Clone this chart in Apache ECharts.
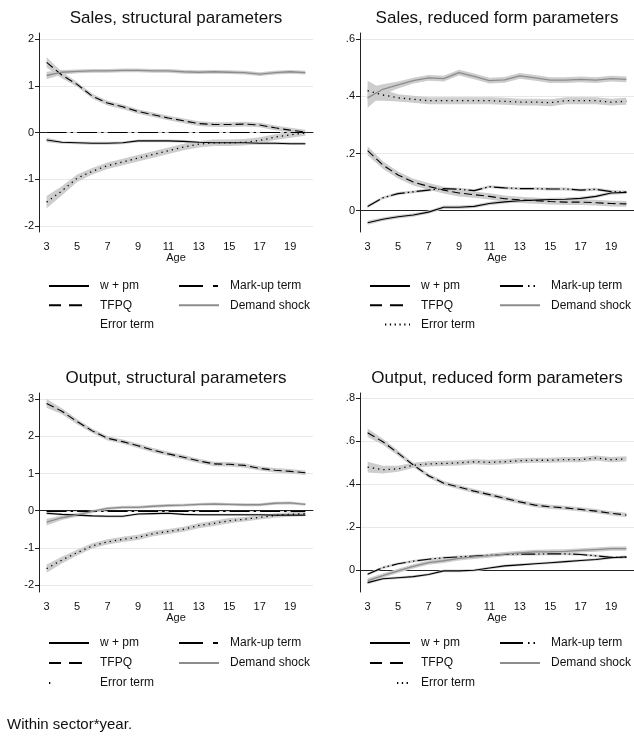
<!DOCTYPE html>
<html>
<head>
<meta charset="utf-8">
<script src="https://cdn.jsdelivr.net/npm/echarts@6/dist/echarts.min.js"></script>
<style>
  html, body { margin: 0; padding: 0; background: #fff; }
  #chart { width: 634px; height: 736px; }
</style>
</head>
<body>
<div id="chart"></div>
<script>
// ages on the x axis
var ages = [3, 4, 5, 6, 7, 8, 9, 10, 11, 12, 13, 14, 15, 16, 17, 18, 19, 20];
var names = ['w + pm', 'Mark-up term', 'TFPQ', 'Demand shock', 'Error term'];

// y ticks and their labels
var yTicks1 = [-2, -1, 0, 1, 2];
var yLabels1 = ['-2', '-1', '0', '1', '2'];
var yTicks2 = [0, 0.2, 0.4, 0.6];
var yLabels2 = ['0', '.2', '.4', '.6'];
var yTicks3 = [-2, -1, 0, 1, 2, 3];
var yLabels3 = ['-2', '-1', '0', '1', '2', '3'];
var yTicks4 = [0, 0.2, 0.4, 0.6, 0.8];
var yLabels4 = ['0', '.2', '.4', '.6', '.8'];

// Sales, structural parameters
var wpm1 = [-0.16, -0.21, -0.22, -0.23, -0.23, -0.22, -0.18, -0.18, -0.18, -0.19, -0.21, -0.22, -0.22, -0.22, -0.23, -0.23, -0.24, -0.24];
var markup1 = [0, 0, 0, 0, 0, 0, 0, 0, 0, 0, 0, 0, 0, 0, 0, 0, 0, 0];
var tfpq1 = [1.50, 1.23, 1.03, 0.78, 0.63, 0.55, 0.45, 0.38, 0.31, 0.25, 0.19, 0.17, 0.17, 0.18, 0.16, 0.10, 0.05, 0.01];
var demand1 = [1.22, 1.29, 1.31, 1.32, 1.32, 1.33, 1.33, 1.32, 1.32, 1.30, 1.29, 1.30, 1.29, 1.28, 1.25, 1.28, 1.30, 1.28];
var error1 = [-1.49, -1.25, -0.98, -0.83, -0.71, -0.63, -0.55, -0.47, -0.39, -0.31, -0.25, -0.22, -0.22, -0.21, -0.17, -0.10, -0.05, -0.01];
var hwWpm1 = [0.05, 0.03, 0.03, 0.03, 0.03, 0.03, 0.03, 0.03, 0.03, 0.03, 0.03, 0.03, 0.03, 0.03, 0.03, 0.03, 0.03, 0.03];
var hwMarkup1 = [0.01, 0.01, 0.01, 0.01, 0.01, 0.01, 0.01, 0.01, 0.01, 0.01, 0.01, 0.01, 0.01, 0.01, 0.01, 0.01, 0.01, 0.01];
var hwTfpq1 = [0.11, 0.07, 0.05, 0.05, 0.05, 0.05, 0.05, 0.05, 0.05, 0.05, 0.05, 0.05, 0.05, 0.05, 0.05, 0.05, 0.05, 0.05];
var hwDemand1 = [0.08, 0.05, 0.04, 0.04, 0.04, 0.04, 0.04, 0.04, 0.04, 0.04, 0.04, 0.04, 0.04, 0.04, 0.04, 0.04, 0.04, 0.04];
var hwError1 = [0.13, 0.10, 0.08, 0.07, 0.07, 0.07, 0.07, 0.07, 0.07, 0.07, 0.07, 0.07, 0.07, 0.07, 0.07, 0.06, 0.06, 0.06];

// Sales, reduced form parameters
var wpm2 = [-0.042, -0.030, -0.021, -0.015, -0.005, 0.012, 0.012, 0.015, 0.025, 0.031, 0.035, 0.037, 0.039, 0.040, 0.043, 0.050, 0.062, 0.064];
var markup2 = [0.015, 0.045, 0.060, 0.066, 0.072, 0.077, 0.075, 0.070, 0.084, 0.080, 0.077, 0.077, 0.076, 0.076, 0.072, 0.075, 0.067, 0.065];
var tfpq2 = [0.210, 0.160, 0.125, 0.100, 0.085, 0.072, 0.062, 0.056, 0.050, 0.042, 0.038, 0.035, 0.032, 0.030, 0.030, 0.028, 0.025, 0.024];
var demand2 = [0.395, 0.425, 0.440, 0.455, 0.465, 0.462, 0.483, 0.470, 0.455, 0.458, 0.472, 0.465, 0.457, 0.457, 0.460, 0.457, 0.462, 0.460];
var error2 = [0.420, 0.405, 0.395, 0.390, 0.385, 0.385, 0.385, 0.385, 0.385, 0.383, 0.380, 0.380, 0.378, 0.385, 0.385, 0.385, 0.380, 0.383];
var hwWpm2 = [0.007, 0.006, 0.006, 0.006, 0.006, 0.006, 0.006, 0.006, 0.006, 0.006, 0.006, 0.006, 0.006, 0.006, 0.006, 0.006, 0.006, 0.006];
var hwMarkup2 = [0.006, 0.005, 0.005, 0.005, 0.005, 0.005, 0.005, 0.005, 0.005, 0.005, 0.005, 0.005, 0.005, 0.005, 0.005, 0.005, 0.005, 0.005];
var hwTfpq2 = [0.016, 0.013, 0.012, 0.012, 0.012, 0.012, 0.012, 0.011, 0.011, 0.011, 0.011, 0.011, 0.010, 0.010, 0.010, 0.010, 0.010, 0.010];
var hwDemand2 = [0.035, 0.018, 0.012, 0.010, 0.010, 0.010, 0.010, 0.010, 0.010, 0.010, 0.010, 0.010, 0.010, 0.010, 0.010, 0.010, 0.010, 0.010];
var hwError2 = [0.035, 0.020, 0.013, 0.012, 0.012, 0.012, 0.012, 0.012, 0.012, 0.012, 0.012, 0.012, 0.012, 0.012, 0.012, 0.012, 0.012, 0.012];

// Output, structural parameters
var wpm3 = [-0.07, -0.10, -0.12, -0.14, -0.15, -0.15, -0.09, -0.08, -0.07, -0.10, -0.11, -0.11, -0.11, -0.11, -0.11, -0.12, -0.12, -0.12];
var markup3 = [-0.02, -0.02, -0.02, -0.02, -0.02, -0.02, -0.02, -0.02, -0.02, -0.02, -0.02, -0.02, -0.02, -0.02, -0.02, -0.02, -0.02, -0.02];
var tfpq3 = [2.89, 2.68, 2.40, 2.15, 1.95, 1.86, 1.75, 1.63, 1.53, 1.44, 1.34, 1.26, 1.25, 1.22, 1.14, 1.09, 1.06, 1.02];
var demand3 = [-0.31, -0.19, -0.11, -0.02, 0.06, 0.09, 0.09, 0.12, 0.14, 0.15, 0.17, 0.18, 0.17, 0.16, 0.16, 0.20, 0.21, 0.17];
var error3 = [-1.56, -1.33, -1.13, -0.95, -0.84, -0.77, -0.72, -0.62, -0.56, -0.50, -0.40, -0.34, -0.27, -0.23, -0.18, -0.13, -0.10, -0.08];
var hwWpm3 = [0.04, 0.03, 0.03, 0.03, 0.03, 0.03, 0.03, 0.03, 0.03, 0.03, 0.03, 0.03, 0.03, 0.03, 0.03, 0.03, 0.03, 0.03];
var hwMarkup3 = [0.01, 0.01, 0.01, 0.01, 0.01, 0.01, 0.01, 0.01, 0.01, 0.01, 0.01, 0.01, 0.01, 0.01, 0.01, 0.01, 0.01, 0.01];
var hwTfpq3 = [0.12, 0.08, 0.07, 0.06, 0.06, 0.06, 0.06, 0.06, 0.06, 0.06, 0.06, 0.06, 0.06, 0.06, 0.06, 0.06, 0.06, 0.06];
var hwDemand3 = [0.09, 0.06, 0.05, 0.04, 0.04, 0.04, 0.04, 0.04, 0.04, 0.04, 0.04, 0.04, 0.04, 0.04, 0.04, 0.04, 0.04, 0.04];
var hwError3 = [0.11, 0.09, 0.08, 0.07, 0.07, 0.07, 0.07, 0.07, 0.07, 0.07, 0.07, 0.07, 0.07, 0.06, 0.06, 0.06, 0.06, 0.06];

// Output, reduced form parameters
var wpm4 = [-0.058, -0.040, -0.035, -0.030, -0.020, -0.003, -0.003, 0.000, 0.010, 0.020, 0.025, 0.030, 0.035, 0.040, 0.045, 0.050, 0.058, 0.062];
var markup4 = [-0.019, 0.012, 0.030, 0.042, 0.051, 0.058, 0.062, 0.066, 0.070, 0.073, 0.075, 0.075, 0.076, 0.076, 0.073, 0.067, 0.060, 0.060];
var tfpq4 = [0.640, 0.598, 0.545, 0.490, 0.440, 0.405, 0.387, 0.368, 0.352, 0.335, 0.318, 0.303, 0.295, 0.290, 0.283, 0.275, 0.265, 0.257];
var demand4 = [-0.050, -0.025, -0.003, 0.018, 0.035, 0.044, 0.055, 0.062, 0.068, 0.075, 0.080, 0.085, 0.086, 0.088, 0.092, 0.096, 0.100, 0.100];
var error4 = [0.480, 0.468, 0.472, 0.488, 0.495, 0.497, 0.500, 0.505, 0.502, 0.505, 0.510, 0.512, 0.512, 0.515, 0.515, 0.522, 0.515, 0.518];
var hwWpm4 = [0.007, 0.006, 0.006, 0.006, 0.006, 0.006, 0.006, 0.006, 0.006, 0.006, 0.006, 0.006, 0.006, 0.006, 0.006, 0.006, 0.006, 0.006];
var hwMarkup4 = [0.006, 0.006, 0.006, 0.006, 0.006, 0.006, 0.006, 0.006, 0.006, 0.006, 0.006, 0.006, 0.006, 0.006, 0.006, 0.006, 0.006, 0.006];
var hwTfpq4 = [0.020, 0.014, 0.012, 0.010, 0.010, 0.010, 0.010, 0.010, 0.010, 0.010, 0.010, 0.010, 0.010, 0.010, 0.010, 0.010, 0.010, 0.010];
var hwDemand4 = [0.012, 0.010, 0.010, 0.010, 0.010, 0.010, 0.010, 0.010, 0.010, 0.010, 0.010, 0.010, 0.010, 0.010, 0.010, 0.010, 0.010, 0.010];
var hwError4 = [0.025, 0.018, 0.014, 0.012, 0.012, 0.012, 0.012, 0.012, 0.012, 0.012, 0.012, 0.012, 0.012, 0.012, 0.012, 0.012, 0.012, 0.012];

var FONT = 'Liberation Sans, Arial, sans-serif';
var BAND = '#cdcdcd';

// markup dash differs between the left and the right column
var dashLeft = [20, 4, 2.5, 4];
var dashRight = [14, 3, 1.5, 3, 1.5, 3];

var panels = [
  { title: 'Sales, structural parameters', left: 39, top: 33, min: -2.13, max: 2.13,
    ticks: yTicks1, labels: yLabels1, data: [wpm1, markup1, tfpq1, demand1, error1],
    hw: [hwWpm1, hwMarkup1, hwTfpq1, hwDemand1, hwError1], right: false, legTop: 280, legGap: 7.3,
    errLeg: { opacity: 0 } },
  { title: 'Sales, reduced form parameters', left: 360, top: 33, min: -0.0746, max: 0.622,
    ticks: yTicks2, labels: yLabels2, data: [wpm2, markup2, tfpq2, demand2, error2],
    hw: [hwWpm2, hwMarkup2, hwTfpq2, hwDemand2, hwError2], right: true, legTop: 280, legGap: 7.3,
    errLeg: { type: [0.01, 15, 1.3, 3.5, 1.3, 3.5, 1.3, 3.5, 1.3, 3.5, 1.3, 3.5, 1.3, 100] } },
  { title: 'Output, structural parameters', left: 39, top: 393, min: -2.19, max: 3.17,
    ticks: yTicks3, labels: yLabels3, data: [wpm3, markup3, tfpq3, demand3, error3],
    hw: [hwWpm3, hwMarkup3, hwTfpq3, hwDemand3, hwError3], right: false, legTop: 637, legGap: 8,
    errLeg: { type: [1.3, 100] } },
  { title: 'Output, reduced form parameters', left: 360, top: 393, min: -0.1015, max: 0.825,
    ticks: yTicks4, labels: yLabels4, data: [wpm4, markup4, tfpq4, demand4, error4],
    hw: [hwWpm4, hwMarkup4, hwTfpq4, hwDemand4, hwError4], right: true, legTop: 637, legGap: 8,
    errLeg: { type: [0.01, 27, 1.3, 3.5, 1.3, 3.5, 1.3, 100] } }
];

function lineStyleFor(k, p) {
  if (k === 0) return { color: '#000', width: 1.1, type: 'solid' };
  if (k === 1) return { color: '#000', width: 1.2, type: p.right ? dashRight : dashLeft };
  if (k === 2) return { color: '#000', width: 1.1, type: [8, 4] };
  if (k === 3) return { color: '#8c8c8c', width: 1.3, type: 'solid' };
  return { color: '#000', width: 1.3, type: [1.3, 4] };
}

var grids = [], xAxes = [], yAxes = [], series = [], legends = [], titles = [];

panels.forEach(function (p, i) {
  grids.push({ left: p.left, top: p.top, width: 274, height: 199 });
  titles.push({
    text: p.title, left: p.left + 137, top: p.top - 23, textAlign: 'center', padding: 0,
    textStyle: { fontFamily: FONT, fontSize: 17, fontWeight: 'normal', color: '#111' }
  });
  xAxes.push({
    type: 'category', gridIndex: i, data: ages, boundaryGap: true,
    name: 'Age', nameLocation: 'middle', nameGap: 20,
    nameTextStyle: { fontFamily: FONT, fontSize: 11, color: '#111' },
    axisLine: { lineStyle: { color: '#222', width: 1 } },
    axisTick: { alignWithLabel: true, interval: 0, length: 4, lineStyle: { color: '#222' } },
    axisLabel: { interval: 1, margin: 9, fontFamily: FONT, fontSize: 11, color: '#111' },
    splitLine: { show: false }
  });
  yAxes.push({
    type: 'value', gridIndex: i, min: p.min, max: p.max,
    axisLine: { show: true, lineStyle: { color: '#222', width: 1 } },
    axisTick: { show: true, length: 4, customValues: p.ticks, lineStyle: { color: '#222' } },
    axisLabel: {
      customValues: p.ticks, margin: 5, fontFamily: FONT, fontSize: 11, color: '#111',
      formatter: function (v) { return p.labels[p.ticks.indexOf(v)]; }
    },
    splitLine: { show: true, lineStyle: { color: '#e8e8e8', width: 1 } }
  });

  // confidence bands first
  p.data.forEach(function (vals, k) {
    var hw = p.hw[k];
    var stack = 'band' + i + '_' + k;
    series.push({
      type: 'line', xAxisIndex: i, yAxisIndex: i, stack: stack, stackStrategy: 'all',
      data: vals.map(function (v, j) { return v - hw[j]; }),
      symbol: 'none', silent: true, lineStyle: { width: 0, opacity: 0 }
    });
    series.push({
      type: 'line', xAxisIndex: i, yAxisIndex: i, stack: stack, stackStrategy: 'all',
      data: hw.map(function (h) { return 2 * h; }),
      symbol: 'none', silent: true, lineStyle: { width: 0, opacity: 0 },
      areaStyle: { color: BAND, opacity: 1 }
    });
  });
  // estimate lines on top
  p.data.forEach(function (vals, k) {
    var ls = lineStyleFor(k, p);
    series.push({
      type: 'line', name: names[k] + '#' + i, xAxisIndex: i, yAxisIndex: i,
      data: vals, symbol: 'none', lineStyle: ls, itemStyle: { color: ls.color }
    });
  });

  var legBase = {
    orient: 'vertical', top: p.legTop, itemWidth: 40, itemHeight: 14, itemGap: p.legGap,
    selectedMode: false, padding: 0,
    itemStyle: { opacity: 0 },
    textStyle: { fontFamily: FONT, fontSize: 12, color: '#111', padding: [0, 0, 0, 6] },
    formatter: function (n) { return n.split('#')[0]; }
  };
  var mkLeg = p.right ? [23, 5, 1.5, 4, 1.5, 100] : [24, 10, 5, 100];
  legends.push(Object.assign({}, legBase, {
    left: p.left + 9,
    data: [
      { name: names[0] + '#' + i },
      { name: names[2] + '#' + i, lineStyle: { type: [12, 8, 13, 100] } },
      { name: names[4] + '#' + i, lineStyle: p.errLeg }
    ]
  }));
  legends.push(Object.assign({}, legBase, {
    left: p.left + 139,
    data: [
      { name: names[1] + '#' + i, lineStyle: { type: mkLeg } },
      { name: names[3] + '#' + i }
    ]
  }));
});

titles.push({
  text: 'Within sector*year.', left: 7, top: 717, padding: 0,
  textStyle: { fontFamily: FONT, fontSize: 15, fontWeight: 'normal', color: '#111' }
});

var myChart = echarts.init(document.getElementById('chart'));
myChart.setOption({
  animation: false,
  backgroundColor: '#fff',
  title: titles,
  grid: grids,
  xAxis: xAxes,
  yAxis: yAxes,
  legend: legends,
  series: series
});
</script>
</body>
</html>
